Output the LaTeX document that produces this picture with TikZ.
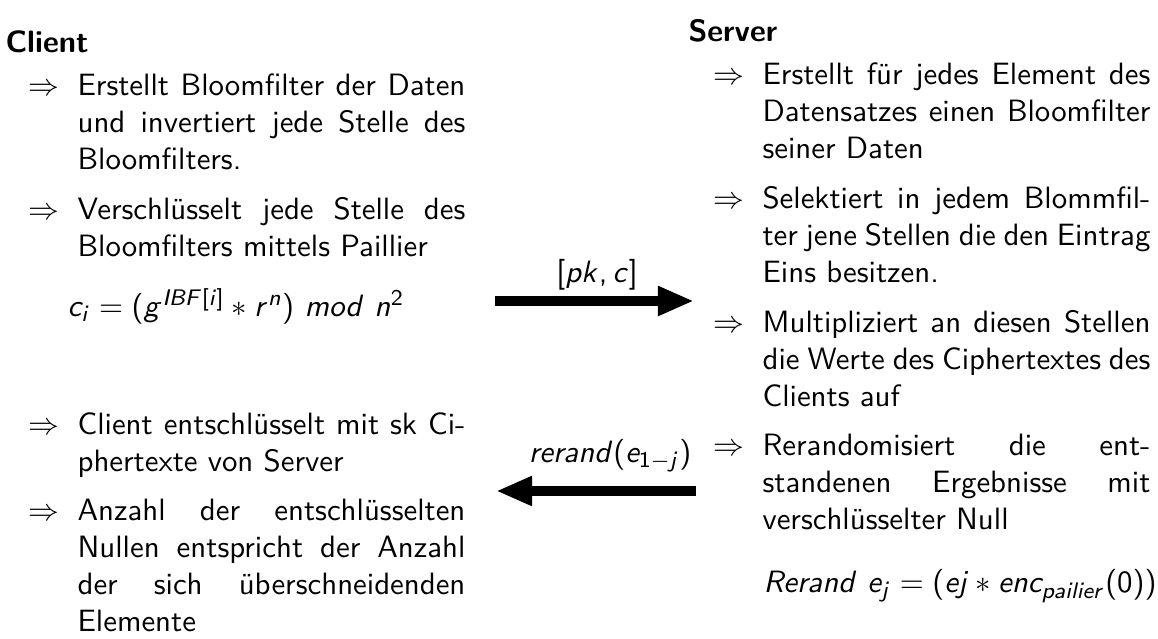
\documentclass[tikz,border=0pt]{standalone}
\renewcommand{\familydefault}{\sfdefault}
\usetikzlibrary{arrows.meta}
% serifenlose Formeln wie auf der Folie
\DeclareSymbolFont{sfitalic}{OT1}{cmss}{m}{sl}
\DeclareSymbolFont{sfupright}{OT1}{cmss}{m}{n}
\DeclareMathSymbol{(}{\mathopen}{sfupright}{"28}
\DeclareMathSymbol{)}{\mathclose}{sfupright}{"29}
\DeclareMathSymbol{[}{\mathopen}{sfupright}{"5B}
\DeclareMathSymbol{]}{\mathclose}{sfupright}{"5D}
\DeclareMathSymbol{=}{\mathrel}{sfupright}{"3D}
\DeclareMathSymbol{,}{\mathpunct}{sfupright}{"2C}
\makeatletter
\count@=65
\loop
  \mathcode\count@=\numexpr"7000+\symsfitalic*"100+\count@\relax
  \advance\count@ by 1
\ifnum\count@<91 \repeat
\count@=97
\loop
  \mathcode\count@=\numexpr"7000+\symsfitalic*"100+\count@\relax
  \advance\count@ by 1
\ifnum\count@<123 \repeat
\count@=48
\loop
  \mathcode\count@=\numexpr"7000+\symsfupright*"100+\count@\relax
  \advance\count@ by 1
\ifnum\count@<58 \repeat
\makeatother

\begin{document}
\fontsize{10.95}{13.03}\selectfont
\tolerance=10000 \hbadness=10000
\begin{tikzpicture}[x=0.355pt, y=-0.355pt,
  titel/.style={font=\bfseries, anchor=base west, inner sep=0pt},
  punkt/.style={text width=137.7pt, align=justify, anchor=base west, inner sep=0pt},
  pfeil/.style={anchor=base west, inner sep=0pt},
  formel/.style={anchor=base west, inner sep=0pt},
  kanal/.style={line width=3.55pt, -{Triangle[length=12.8pt, width=9.8pt]}}]
\useasboundingbox (0,0) rectangle (1158,639);
% Client
\node[titel] (client) at (5,53) {Client};
\node[pfeil] (cp1) at (28,96) {$\Rightarrow$};
\node[punkt] (c1) at (77,96) {Erstellt Bloomfilter der Daten\linebreak und invertiert jede Stelle des\linebreak Bloomfilters.};
\node[pfeil] (cp2) at (28,220) {$\Rightarrow$};
\node[punkt] (c2) at (77,220) {Verschlüsselt jede Stelle des\linebreak Bloomfilters mittels Paillier};
\node[formel] (cf) at (67,317) {$c_i = (g^{IBF[i]} * r^n)\ mod\ n^2$};
\node[pfeil] (cp3) at (28,435) {$\Rightarrow$};
\node[punkt] (c3) at (77,435) {Client entschlüsselt mit sk Ci-\linebreak phertexte von Server};
\node[pfeil] (cp4) at (28,521) {$\Rightarrow$};
\node[punkt] (c4) at (77,521) {Anzahl der entschlüsselten\linebreak Nullen entspricht der Anzahl\linebreak der sich überschneidenden\linebreak Elemente};
% Server
\node[titel] (server) at (688,42) {Server};
\node[pfeil] (sp1) at (713,85) {$\Rightarrow$};
\node[punkt] (s1) at (762,85) {Erstellt für jedes Element des\linebreak Datensatzes einen Bloomfilter\linebreak seiner Daten};
\node[pfeil] (sp2) at (713,209) {$\Rightarrow$};
\node[punkt] (s2) at (762,209) {Selektiert in jedem Blommfil-\linebreak ter jene Stellen die den Eintrag\linebreak Eins besitzen.};
\node[pfeil] (sp3) at (713,333) {$\Rightarrow$};
\node[punkt] (s3) at (762,333) {Multipliziert an diesen Stellen\linebreak die Werte des Ciphertextes des\linebreak Clients auf};
\node[pfeil] (sp4) at (713,456) {$\Rightarrow$};
\node[punkt] (s4) at (762,456) {Rerandomisiert die ent-\linebreak standenen Ergebnisse mit\linebreak verschlüsselter Null};
\node[formel] (sf) at (763,593) {$Rerand\ e_j = (ej * enc_{pailier}(0))$};
% Nachrichten
\coordinate (hin1) at (495,301);
\coordinate (hin2) at (694,301);
\coordinate (rueck1) at (696,491);
\coordinate (rueck2) at (496,491);
\draw[kanal] (hin1) -- (hin2);
\draw[kanal] (rueck1) -- (rueck2);
\node[anchor=base, inner sep=0pt] (pk) at (597,283) {$[pk, c]$};
\node[anchor=base east, inner sep=0pt] (rr) at (692,463) {$rerand(e_{1-j})$};
\end{tikzpicture}
\end{document}
